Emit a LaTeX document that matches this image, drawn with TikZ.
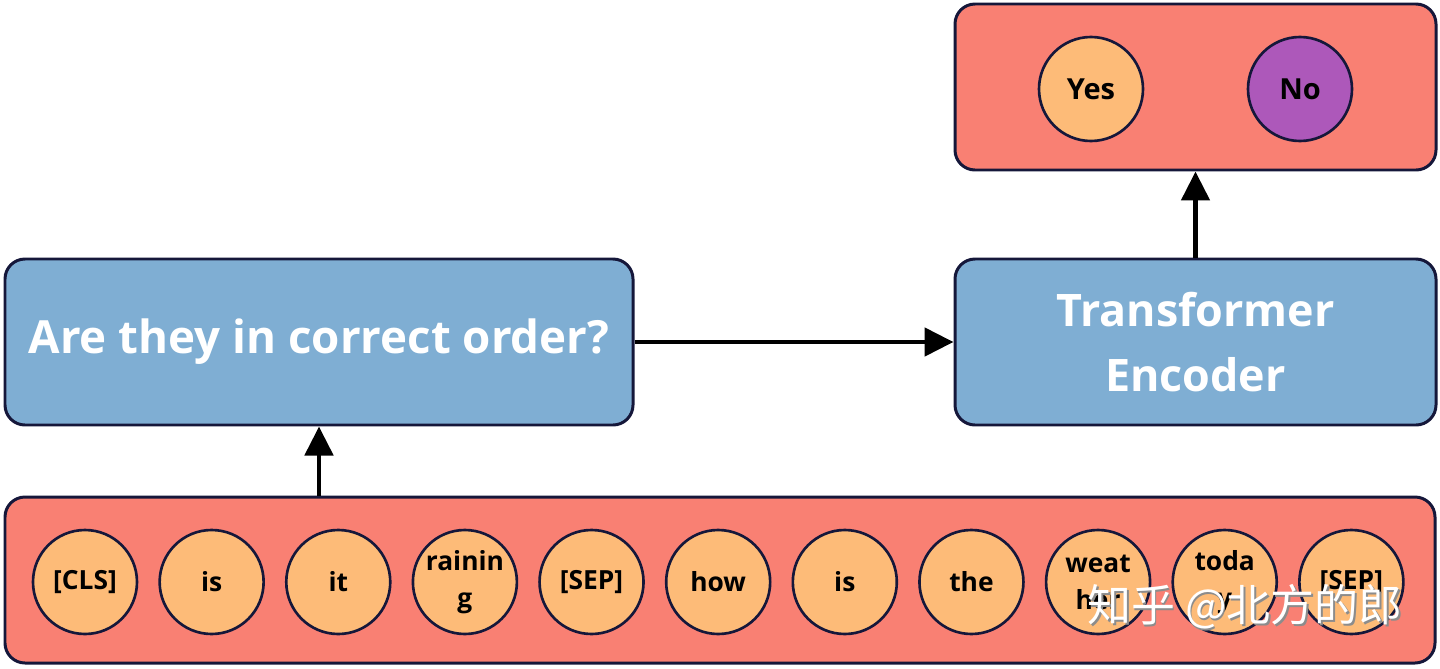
\documentclass[tikz,border=0pt]{standalone}
\usepackage{fontspec}
\setmainfont{Open Sans}
\newfontfamily\cjkfont{Noto Sans CJK SC}
\usepackage{tikz}
\usetikzlibrary{positioning,arrows.meta,calc}
\definecolor{salmonbg}{HTML}{F98073}
\definecolor{bluebox}{HTML}{7FAED3}
\definecolor{tokfill}{HTML}{FDBB78}
\definecolor{nofill}{HTML}{AD58BA}
\definecolor{edge}{HTML}{15173A}
\tikzstyle{panel}=[draw=edge,line width=1.7pt,rounded corners=0.4cm,fill=salmonbg]
\tikzstyle{stage}=[draw=edge,line width=1.7pt,rounded corners=0.4cm,fill=bluebox,
  text=white,font=\bfseries,align=center]
\tikzstyle{token}=[circle,draw=edge,line width=1.5pt,fill=tokfill,minimum size=2.08cm,
  inner sep=0pt,align=center,font=\bfseries\fontsize{15}{21}\selectfont]
\tikzstyle{flow}=[line width=2.8pt,-{Triangle[length=0.58cm,width=0.56cm]}]

\begin{document}
\begin{tikzpicture}
  \useasboundingbox (0,0) rectangle (28.8,-13.36);
  % token row
  \node [panel,minimum width=28.6cm,minimum height=3.32cm] (tokens) at (14.4,-11.6) {};
  \node [token] (t1) at (1.70,-11.64) {[CLS]};
  \node [token,right=0.4cm of t1] (t2) {is};
  \node [token,right=0.4cm of t2] (t3) {it};
  \node [token,right=0.4cm of t3] (t4) {rainin\\g};
  \node [token,right=0.4cm of t4] (t5) {[SEP]};
  \node [token,right=0.4cm of t5] (t6) {how};
  \node [token,right=0.4cm of t6] (t7) {is};
  \node [token,right=0.4cm of t7] (t8) {the};
  \node [token,right=0.4cm of t8] (t9) {weat\\her};
  \node [token,right=0.4cm of t9] (t10) {toda\\y};
  \node [token,right=0.4cm of t10] (t11) {[SEP]};
  % question and encoder
  \node [stage,minimum width=12.56cm,minimum height=3.32cm,
    font=\bfseries\fontsize{26}{30}\selectfont] (order) at (6.38,-6.84)
    {\raisebox{-0.13cm}{Are they in correct order?}};
  \node [stage,minimum width=9.62cm,minimum height=3.32cm,
    font=\bfseries\fontsize{25.5}{37}\selectfont] (encoder) at (23.91,-6.84)
    {Transformer\\Encoder};
  % output
  \node [panel,minimum width=9.62cm,minimum height=3.32cm] (output) at (23.91,-1.74) {};
  \node [token,font=\bfseries\fontsize{16.5}{18}\selectfont] (yes) at (21.82,-1.78) {Yes};
  \node [token,fill=nofill,font=\bfseries\fontsize{16.5}{18}\selectfont] (no) at (26.0,-1.78) {No};
  % arrows
  \draw [flow] (tokens.north -| order.south) -- (order.south);
  \draw [flow] (order.east) -- (encoder.west);
  \draw [flow] (encoder.north) -- (output.south);
  % watermark
  \node [text=black!45,font=\cjkfont\fontsize{25}{25}\selectfont] (markshadow) at (24.93,-12.17) {知乎 @北方的郎};
  \node [text=white,font=\cjkfont\fontsize{25}{25}\selectfont] (mark) at (24.9,-12.14) {知乎 @北方的郎};
\end{tikzpicture}
\end{document}
